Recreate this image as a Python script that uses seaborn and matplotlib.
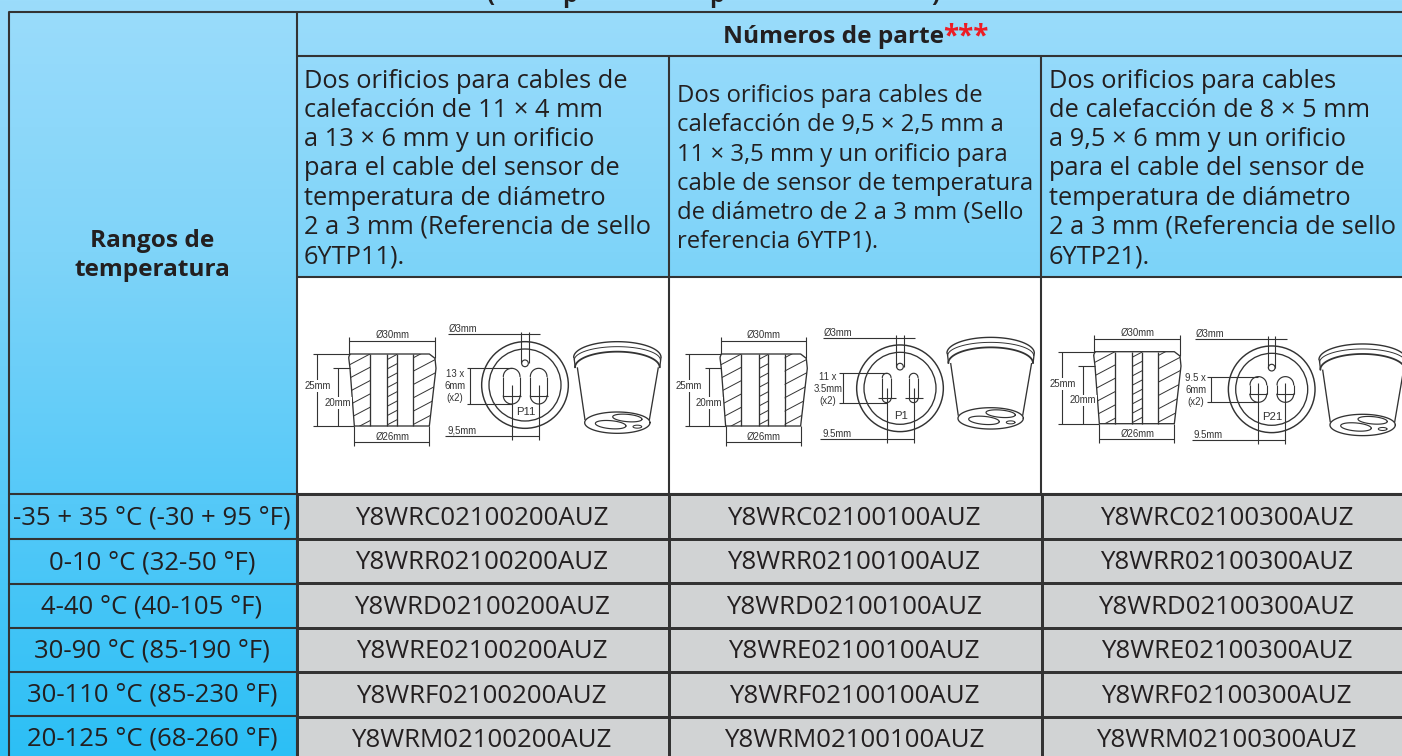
import numpy as np
import seaborn as sns
import matplotlib
matplotlib.use('Agg')
import matplotlib.pyplot as plt
from matplotlib.colors import LinearSegmentedColormap, ListedColormap
from matplotlib.patches import Polygon, Circle, Rectangle

# table content
temp_ranges = ['-35 + 35 °C (-30 + 95 °F)', '0-10 °C (32-50 °F)', '4-40 °C (40-105 °F)',
               '30-90 °C (85-190 °F)', '30-110 °C (85-230 °F)', '20-125 °C (68-260 °F)']
parts_p11 = ['Y8WRC02100200AUZ', 'Y8WRR02100200AUZ', 'Y8WRD02100200AUZ',
             'Y8WRE02100200AUZ', 'Y8WRF02100200AUZ', 'Y8WRM02100200AUZ']
parts_p1 = ['Y8WRC02100100AUZ', 'Y8WRR02100100AUZ', 'Y8WRD02100100AUZ',
            'Y8WRE02100100AUZ', 'Y8WRF02100100AUZ', 'Y8WRM02100100AUZ']
parts_p21 = ['Y8WRC02100300AUZ', 'Y8WRR02100300AUZ', 'Y8WRD02100300AUZ',
             'Y8WRE02100300AUZ', 'Y8WRF02100300AUZ', 'Y8WRM02100300AUZ']
desc_p11 = ['Dos orificios para cables de', 'calefacción de 11 × 4 mm', 'a 13 × 6 mm y un orificio',
            'para el cable del sensor de', 'temperatura de diámetro',
            '2 a 3 mm (Referencia de sello', '6YTP11).']
desc_p1 = ['Dos orificios para cables de', 'calefacción de 9,5 × 2,5 mm a', '11 × 3,5 mm y un orificio para',
           'cable de sensor de temperatura', 'de diámetro de 2 a 3 mm (Sello', 'referencia 6YTP1).']
desc_p21 = ['Dos orificios para cables', 'de calefacción de 8 × 5 mm', 'a 9,5 × 6 mm y un orificio',
            'para el cable del sensor de', 'temperatura de diámetro',
            '2 a 3 mm (Referencia de sello', '6YTP21).']

DARK = '#231f20'
LINE = '#333333'
W, H = 1402, 756

sns.set_theme(style='white')
plt.rcParams['font.family'] = ['Open Sans', 'DejaVu Sans']

fig = plt.figure(figsize=(W / 100, H / 100), dpi=100)
ax = fig.add_axes([0, 0, 1, 1])
ax.set_xlim(0, W)
ax.set_ylim(H, 0)
ax.axis('off')

# blue gradient behind everything
blue = LinearSegmentedColormap.from_list('blue', ['#9bdcfb', '#7fd4f9', '#55c9f8', '#2cbff5'])
ax.imshow(np.linspace(0, 1, 256).reshape(-1, 1), cmap=blue, extent=[0, W, H, 0], aspect='auto', zorder=0)
ax.set_xlim(0, W)
ax.set_ylim(H, 0)

# white picture cells
ax.add_patch(Rectangle((297, 277), W - 297, 217, color='white', zorder=1))

# grid lines
for y, x0 in [(12, 9), (56, 297), (277, 297), (494, 9)]:
    ax.plot([x0, W], [y, y], color=LINE, lw=1.5, zorder=3, solid_capstyle='butt')
for y in [539, 583.5, 627.5, 672, 716]:
    ax.plot([9, 297], [y, y], color=LINE, lw=1.5, zorder=3)
ax.plot([9, 9], [12, H], color=LINE, lw=1.5, zorder=3)
ax.plot([297, 297], [12, H], color=LINE, lw=1.5, zorder=3)
for x in [669, 1041]:
    ax.plot([x, x], [56, 494], color=LINE, lw=1.5, zorder=3)

# bottom edge of the title, mostly cut off by the picture
for x, ch in zip([491, 570, 717, 935], ['(', 'p', 'p', ')']):
    ax.text(x, 2, ch, fontsize=17, fontweight='bold', color=DARK, ha='center', va='baseline')

# headers
ax.text(723, 37, 'Números de parte', fontsize=17.6, fontweight='bold', color=DARK, va='center')
ax.text(943, 37, '***', fontsize=20, fontweight='bold', color='#ed1c24', va='center')
ax.text(152, 241, 'Rangos de', fontsize=17.6, fontweight='bold', color=DARK, ha='center', va='center')
ax.text(152, 270, 'temperatura', fontsize=17.6, fontweight='bold', color=DARK, ha='center', va='center')

for x0, y0, size, lines in [(304, 81, 18.3, desc_p11), (677, 96, 17.2, desc_p1), (1049, 81, 18.3, desc_p21)]:
    for i, line in enumerate(lines):
        ax.text(x0, y0 + i * 29.3, line, fontsize=size, color=DARK, va='center')

# temperature column
row_y = [518, 562.5, 607, 651.5, 695.5, 739.5]
for y, label in zip(row_y, temp_ranges):
    ax.text(152, y, label, fontsize=18.5, color=DARK, ha='center', va='center')


def seg(x0, y0, pts, lw=0.8, color=LINE, z=4):
    xs = [x0 + p[0] / 3 for p in pts]
    ys = [y0 + p[1] / 3 for p in pts]
    return ax.plot(xs, ys, color=color, lw=lw, zorder=z, solid_capstyle='butt')[0]


def arc(x0, y0, cx, cy, w, h, t0, t1, lw=0.85, angle=0):
    t = np.radians(np.linspace(t0, t1, 80))
    a = np.radians(angle)
    ex, ey = w / 2 * np.cos(t), h / 2 * np.sin(t)
    xs = cx + ex * np.cos(a) - ey * np.sin(a)
    ys = cy + ex * np.sin(a) + ey * np.cos(a)
    ax.plot(x0 + xs / 3, y0 + ys / 3, color=LINE, lw=lw, zorder=4)


def small(x0, y0, x, y, s, size=6.9, box=False):
    bbox = dict(facecolor='white', edgecolor='none', pad=0.6) if box else None
    ax.text(x0 + x / 3, y0 + y / 3, s, fontsize=size, color=LINE, ha='center', va='center',
            family='Liberation Sans', zorder=6, bbox=bbox)


def section(x0, y0):
    # cut view of the seal with its dimensions
    outline = [(146, 232), (150, 222), (388, 222), (405, 235), (408, 265), (388, 438), (163, 438), (150, 265)]
    seg(x0, y0, outline + outline[:1], lw=0.95)
    regions = [([(146, 232), (150, 222), (210, 222), (210, 438), (163, 438), (150, 265)], 40),
               ([(262, 222), (290, 222), (290, 438), (262, 438)], 28),
               ([(340, 222), (388, 222), (405, 235), (408, 265), (388, 438), (340, 438)], 40)]
    for pts, step in regions:
        clip = Polygon([(x0 + p[0] / 3, y0 + p[1] / 3) for p in pts], closed=True, fill=False,
                       edgecolor='none', transform=ax.transData)
        ax.add_patch(clip)
        for k in range(0, 520, step):
            ln = seg(x0, y0, [(100, 240 + k), (460, 240 + k - 190)], lw=0.7)
            ln.set_clip_path(clip)
    for x in [210, 262, 290, 340]:
        seg(x0, y0, [(x, 222), (x, 438)], lw=0.95)
    # dimensions
    seg(x0, y0, [(148, 183), (405, 183)])
    seg(x0, y0, [(148, 172), (148, 222)])
    seg(x0, y0, [(405, 172), (405, 235)])
    small(x0, y0, 277, 166, 'Ø30mm')
    seg(x0, y0, [(163, 485), (388, 485)])
    seg(x0, y0, [(163, 438), (163, 497)])
    seg(x0, y0, [(388, 438), (388, 497)])
    small(x0, y0, 277, 470, 'Ø26mm')
    seg(x0, y0, [(40, 222), (150, 222)])
    seg(x0, y0, [(40, 438), (163, 438)])
    seg(x0, y0, [(52, 222), (52, 438)])
    small(x0, y0, 52, 318, '25mm', box=True)
    seg(x0, y0, [(100, 265), (150, 265)])
    seg(x0, y0, [(113, 265), (113, 438)])
    small(x0, y0, 113, 368, '20mm', box=True)


def top_view(x0, y0, name, size_lines, hole_w, hole_top, hole_bot, text_x, pitch_label):
    # round face of the seal, centred on (x0, y0)
    ax.add_patch(Circle((x0, y0), 130 / 3, fill=False, edgecolor=LINE, lw=1.05, zorder=4))
    ax.add_patch(Circle((x0, y0), 108 / 3, fill=False, edgecolor=LINE, lw=0.95, zorder=4))
    ax.add_patch(Circle((x0, y0 - 65 / 3), 10 / 3, fill=False, edgecolor=LINE, lw=0.85, zorder=4))
    seg(x0, y0, [(-11, -160), (-11, -65)])
    seg(x0, y0, [(11, -160), (11, -65)])
    seg(x0, y0, [(-230, -152), (45, -152)])
    small(x0, y0, -185, -167, 'Ø3mm')
    for cx in [-40, 41]:
        r = hole_w / 2
        arc(x0, y0, cx, hole_top + r, hole_w, hole_w, 180, 360)
        arc(x0, y0, cx, hole_bot - r, hole_w, hole_w, 0, 180)
        seg(x0, y0, [(cx - r, hole_top + r), (cx - r, hole_bot - r)])
        seg(x0, y0, [(cx + r, hole_top + r), (cx + r, hole_bot - r)])
        seg(x0, y0, [(cx - 27, hole_bot - r), (cx + 27, hole_bot - r)])
        seg(x0, y0, [(cx, hole_bot - r - 32), (cx, 165)])
    seg(x0, y0, [(text_x + 35, hole_top), (-40, hole_top)])
    seg(x0, y0, [(text_x + 35, hole_bot), (-40, hole_bot)])
    seg(x0, y0, [(text_x + 45, hole_top), (text_x + 45, hole_bot)])
    for i, line in enumerate(size_lines):
        small(x0, y0, text_x, -34 + i * 36, line, size=6.9)
    small(x0, y0, 2, 82, name, size=8.2)
    seg(x0, y0, [(-240, 152), (41, 152)])
    small(x0, y0, -190, 137, pitch_label)


def iso_view(x0, y0):
    # 3d view of the seal
    arc(x0, y0, 952, 232, 262, 94, 180, 360, lw=1.0)
    arc(x0, y0, 952, 240, 258, 80, 180, 360, lw=0.7)
    arc(x0, y0, 952, 262, 254, 94, 180, 360, lw=1.3)
    seg(x0, y0, [(822, 232), (826, 264)], lw=0.95)
    seg(x0, y0, [(1083, 232), (1079, 264)], lw=0.95)
    seg(x0, y0, [(832, 262), (855, 420)], lw=0.95)
    seg(x0, y0, [(1075, 262), (1048, 420)], lw=0.95)
    arc(x0, y0, 952, 428, 196, 64, 0, 360, lw=0.95)
    arc(x0, y0, 932, 434, 92, 24, 0, 360, lw=0.85, angle=5)
    arc(x0, y0, 982, 414, 88, 22, 0, 360, lw=0.85, angle=5)
    arc(x0, y0, 1012, 440, 26, 9, 0, 360, lw=0.75)


section(300, 280)
top_view(525, 385, 'P11', ['13 x', '6mm', '(x2)'], 50, -50, 57, -210, '9,5mm')
iso_view(300, 280)

section(671.3, 280)
top_view(900, 388.3, 'P1', ['11 x', '3.5mm', '(x2)'], 26, -45, 43, -217, '9.5mm')
iso_view(673.3, 275.7)

section(1045, 277.7)
top_view(1271.7, 389.3, 'P21', ['9.5 x', '6mm', '(x2)'], 50, -38, 39, -228, '9.5mm')
iso_view(1045.3, 282.3)

# part numbers as a heatmap block, columns run off the right edge
annot = np.array([parts_p11, parts_p1, parts_p21]).T
ax2 = fig.add_axes([297 / W, (H - 761) / H, (1414 - 297) / W, (761 - 494) / H])
sns.heatmap(np.ones(annot.shape), ax=ax2, cmap=ListedColormap(['#d1d3d4']), cbar=False,
            annot=annot, fmt='', annot_kws={'fontsize': 18.6, 'color': DARK},
            linewidths=1.0, linecolor=LINE, xticklabels=False, yticklabels=False)
for t in ax2.texts:
    tx, ty = t.get_position()
    t.set_position((tx - 0.004, ty + 0.04))

fig.savefig('out.png', dpi=100)
